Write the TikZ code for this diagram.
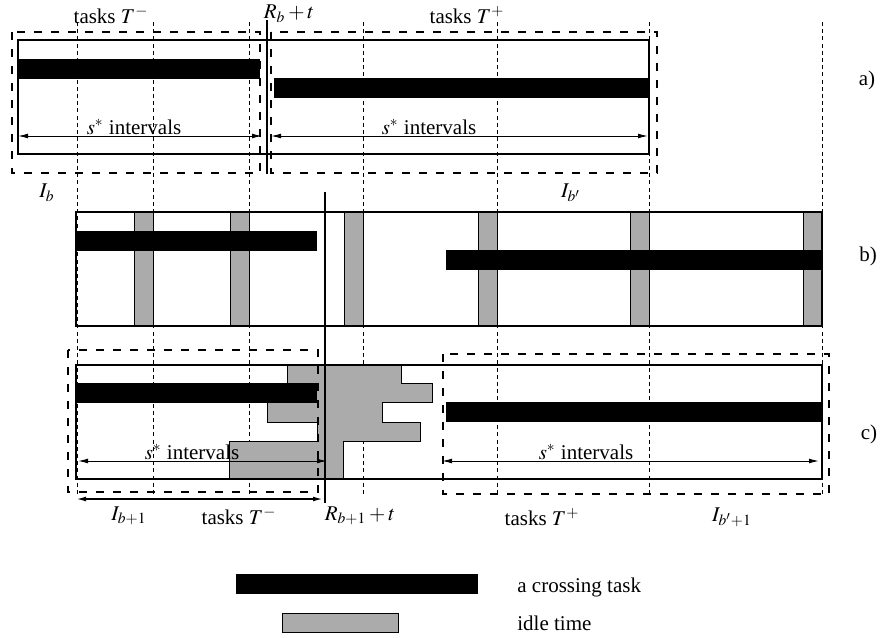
\documentclass[tikz,border=0pt]{standalone}
\usepackage{mathptmx}
\usepackage{fontspec}
\setmainfont{Liberation Serif}
\usepackage{tikz}
\usetikzlibrary{arrows,arrows.meta,positioning}
\colorlet{idle}{black!33}
\tikzset{grille/.style={line width=0.4pt,dash pattern=on 2pt off 1.6pt},
  cadre/.style={line width=1pt},
  bloc/.style={line width=1pt,dash pattern=on 4pt off 4.5pt},
  repos/.style={fill=idle,draw,line width=0.5pt},
  intervalle/.style={{Latex[length=5pt,width=2.4pt]}-{Latex[length=5pt,width=2.4pt]},line width=0.5pt},
  txt/.style={font=\rmfamily\fontsize{10.5}{12}\selectfont,inner sep=0pt}}

\begin{document}
\begin{tikzpicture}[x=0.5pt,y=-0.5pt]%
\useasboundingbox (0,0) rectangle (890,638);
%%GRILLE
\foreach \x in {77,153,249,363,497,649,822}
  \draw[grille] (\x,22)--(\x,496); %%
%%A)
\fill (18,59) rectangle (260,79); %%
\fill (274,78) rectangle (649,98); %%
\draw[cadre] (18,40) rectangle (649,154); %%
\draw[cadre] (267,20)--(267,174); %%
\draw[bloc] (12,32) rectangle (260,173); %%
\draw[bloc] (271,32) rectangle (657,173); %%
\draw[intervalle] (18,136)--(262,136); %%
\draw[intervalle] (271,136)--(648,136); %%
\node[txt] (sa) at (134,127) {$s^*$ intervals}; %%
\node[txt] (sb) at (429,127) {$s^*$ intervals}; %%
\node[txt] (tm) at (111,15) {tasks $T^-$}; %%
\node[txt] (rb) at (289,14) {$R_b+t$}; %%
\node[txt] (tp) at (467,15) {tasks $T^+$}; %%
\node[txt] (ib) at (47,193) {$I_b$}; %%
\node[txt] (ibp) at (571,193) {$I_{b'}$}; %%
\node[txt] (la) at (867,80) {a)}; %%
%%B)
\foreach \x in {153,249,363,497,649,822}
  \draw[repos] (\x-19,212) rectangle (\x,326); %%
\fill (76,231) rectangle (317,251); %%
\fill (446,250) rectangle (822,270); %%
\draw[cadre] (76,212) rectangle (822,326); %%
\draw[cadre] (325,192)--(325,503); %%
\node[txt] (lb) at (868,256) {b)}; %%
%%C)
\draw[repos] (287,365)--(401,365)--(401,383)--(432,383)--(432,402)--(382,402)
  --(382,422)--(420,422)--(420,441)--(343,441)--(343,479)--(229,479)--(229,441)
  --(317,441)--(317,422)--(267,422)--(267,393)--(287,393)--cycle; %%
\fill (76,383) rectangle (317,403); %%
\fill (446,402) rectangle (822,422); %%
\draw[cadre] (76,365) rectangle (822,479); %%
\draw[cadre] (325,365)--(325,479); %%
\draw[bloc] (68,350) rectangle (318,492); %%
\draw[bloc] (443,354) rectangle (829,494); %%
\draw[intervalle] (78,461)--(327,461); %%
\draw[intervalle] (442,461)--(819,461); %%
\draw[intervalle,line width=0.8pt] (76,499)--(323,499); %%
\node[txt] (sc) at (192,452) {$s^*$ intervals}; %%
\node[txt] (sd) at (586,452) {$s^*$ intervals}; %%
\node[txt] (ibb) at (129,516) {$I_{b+1}$}; %%
\node[txt] (tmm) at (239,516) {tasks $T^-$}; %%
\node[txt] (rbb) at (360,516) {$R_{b+1}+t$}; %%
\node[txt] (tpp) at (542,517) {tasks $T^+$}; %%
\node[txt] (ibbp) at (732,517) {$I_{b'+1}$}; %%
\node[txt] (lc) at (869,434) {c)}; %%
%%LEGENDE
\fill (236,574) rectangle (478,594); %%
\draw[repos] (282,613) rectangle (398,632); %%
\node[txt,anchor=west] (lt) at (517,587) {a crossing task}; %%
\node[txt,anchor=west] (li) at (517,623) {idle time}; %%
\end{tikzpicture}
\end{document}
